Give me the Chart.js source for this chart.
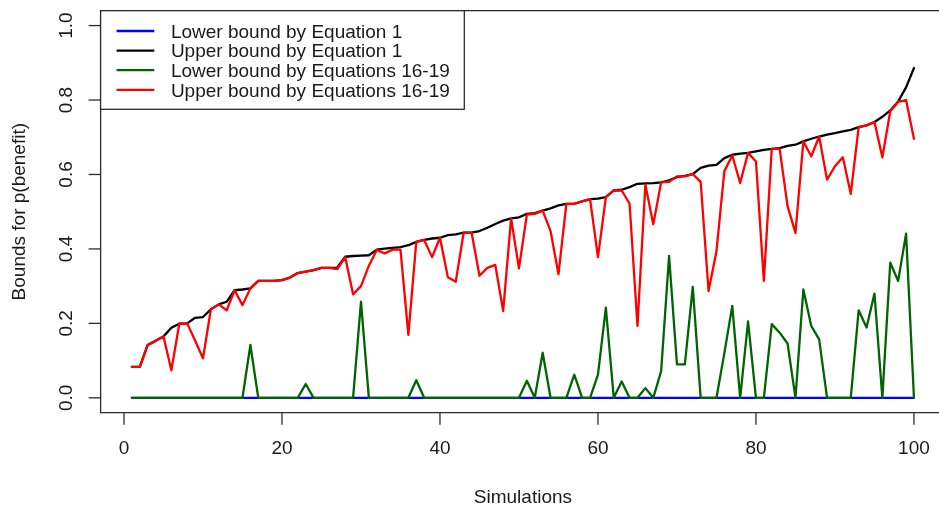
<!DOCTYPE html>
<html>
<head>
<meta charset="utf-8">
<script src="https://cdn.jsdelivr.net/npm/chart.js@4/dist/chart.umd.min.js"></script>
<style>
  html, body { margin: 0; padding: 0; background: #ffffff; }
  #c { display: block; }
</style>
</head>
<body>
<canvas id="c" width="939" height="506"></canvas>
<script>
// ---------- data ----------
const simulations = [1,2,3,4,5,6,7,8,9,10,11,12,13,14,15,16,17,18,19,20,
  21,22,23,24,25,26,27,28,29,30,31,32,33,34,35,36,37,38,39,40,
  41,42,43,44,45,46,47,48,49,50,51,52,53,54,55,56,57,58,59,60,
  61,62,63,64,65,66,67,68,69,70,71,72,73,74,75,76,77,78,79,80,
  81,82,83,84,85,86,87,88,89,90,91,92,93,94,95,96,97,98,99,100];

const lowerEq1 = [0,0,0,0,0,0,0,0,0,0,0,0,0,0,0,0,0,0,0,0,
  0,0,0,0,0,0,0,0,0,0,0,0,0,0,0,0,0,0,0,0,
  0,0,0,0,0,0,0,0,0,0,0,0,0,0,0,0,0,0,0,0,
  0,0,0,0,0,0,0,0,0,0,0,0,0,0,0,0,0,0,0,0,
  0,0,0,0,0,0,0,0,0,0,0,0,0,0,0,0,0,0,0,0];

const upperEq1 = [0.083,0.083,0.142,0.153,0.165,0.188,0.199,0.200,0.215,0.217,
  0.238,0.251,0.258,0.289,0.291,0.294,0.314,0.314,0.314,0.316,
  0.323,0.335,0.339,0.343,0.349,0.349,0.350,0.379,0.381,0.382,
  0.383,0.398,0.401,0.403,0.405,0.410,0.419,0.424,0.428,0.430,
  0.437,0.439,0.444,0.444,0.448,0.457,0.467,0.476,0.482,0.485,
  0.494,0.496,0.503,0.509,0.517,0.521,0.521,0.528,0.534,0.535,
  0.539,0.557,0.559,0.566,0.575,0.576,0.577,0.579,0.584,0.593,
  0.596,0.601,0.618,0.624,0.626,0.644,0.653,0.656,0.658,0.662,
  0.666,0.669,0.671,0.677,0.680,0.689,0.696,0.702,0.707,0.711,
  0.716,0.720,0.727,0.732,0.741,0.755,0.772,0.796,0.834,0.886];

const lowerEq1619 = [0,0,0,0,0,0,0,0,0,0,0,0,0,0,0,0.142,0,0,0,0,
  0,0,0.037,0,0,0,0,0,0,0.258,0,0,0,0,0,0,0.047,0,0,0,
  0,0,0,0,0,0,0,0,0,0,0.046,0,0.121,0,0,0,0.062,0,0,0.062,
  0.242,0,0.044,0,0,0.026,0,0.072,0.381,0.090,0.090,0.298,0,0,0,0.120,0.247,0,0.205,0,
  0,0.198,0.175,0.146,0,0.291,0.193,0.157,0,0,0,0,0.235,0.189,0.280,0,0.363,0.314,0.441,0];

const upperEq1619 = [0.083,0.083,0.142,0.153,0.165,0.074,0.199,0.200,0.154,0.106,
  0.238,0.251,0.235,0.289,0.249,0.294,0.314,0.314,0.314,0.316,
  0.323,0.335,0.339,0.343,0.349,0.349,0.346,0.378,0.278,0.300,
  0.355,0.397,0.388,0.398,0.398,0.169,0.419,0.424,0.378,0.430,
  0.324,0.312,0.444,0.444,0.328,0.349,0.357,0.233,0.482,0.348,
  0.492,0.494,0.503,0.448,0.332,0.521,0.521,0.528,0.534,0.378,
  0.539,0.557,0.557,0.522,0.193,0.573,0.466,0.579,0.580,0.595,
  0.595,0.601,0.580,0.287,0.394,0.609,0.651,0.577,0.658,0.635,
  0.314,0.669,0.669,0.515,0.443,0.689,0.649,0.702,0.586,0.622,
  0.646,0.548,0.727,0.732,0.741,0.646,0.770,0.795,0.800,0.696];

const xTicks = [0, 20, 40, 60, 80, 100];
const yTicks = [0.0, 0.2, 0.4, 0.6, 0.8, 1.0];
const yTickLabels = ['0.0', '0.2', '0.4', '0.6', '0.8', '1.0'];
const seriesLabels = ['Lower bound by Equation 1', 'Upper bound by Equation 1',
  'Lower bound by Equations 16-19', 'Upper bound by Equations 16-19'];
const seriesColors = ['#0000ff', '#000000', '#006400', '#ff0000'];
const xTitle = 'Simulations';
const yTitle = 'Bounds for p(benefit)';

// ---------- helpers ----------
const FONT = '19px "Liberation Sans", Arial, sans-serif';
const INK = '#1a1a1a';
const AXIS = '#2b2b2b';
const toPts = (ys) => simulations.map((s, i) => ({ x: s, y: ys[i] }));
const seriesValues = [lowerEq1, upperEq1, lowerEq1619, upperEq1619];
const drawOrder = [4, 3, 2, 1]; // blue first (bottom), red last (top)

const rAxes = {
  id: 'rAxes',
  afterDraw(chart) {
    const ctx = chart.ctx;
    const a = chart.chartArea;
    const xs = chart.scales.x, ys = chart.scales.y;
    ctx.save();
    // box (right side lies outside the cropped picture)
    ctx.strokeStyle = AXIS;
    ctx.lineWidth = 1.3;
    ctx.beginPath();
    ctx.moveTo(chart.width + 2, a.top);
    ctx.lineTo(a.left, a.top);
    ctx.lineTo(a.left, a.bottom);
    ctx.lineTo(chart.width + 2, a.bottom);
    ctx.stroke();
    // x ticks
    ctx.fillStyle = INK;
    ctx.font = FONT;
    ctx.textAlign = 'center';
    ctx.textBaseline = 'middle';
    xTicks.forEach(v => {
      const px = xs.getPixelForValue(v);
      ctx.beginPath();
      ctx.moveTo(px, a.bottom);
      ctx.lineTo(px, a.bottom + 12);
      ctx.stroke();
      ctx.fillText(String(v), px, a.bottom + 36);
    });
    // y ticks
    yTicks.forEach((v, i) => {
      const py = ys.getPixelForValue(v);
      ctx.beginPath();
      ctx.moveTo(a.left, py);
      ctx.lineTo(a.left - 12, py);
      ctx.stroke();
      ctx.save();
      ctx.translate(a.left - 34, py);
      ctx.rotate(-Math.PI / 2);
      ctx.fillText(yTickLabels[i], 0, 0);
      ctx.restore();
    });
    // axis titles (centred on the full plot region)
    const xMid = xs.getPixelForValue((xs.min + 103.96) / 2);
    ctx.textBaseline = 'alphabetic';
    ctx.fillText(xTitle, xMid, a.bottom + 90);
    ctx.save();
    ctx.translate(24.5, (a.top + a.bottom) / 2);
    ctx.rotate(-Math.PI / 2);
    ctx.fillText(yTitle, 0, 0);
    ctx.restore();

    // legend (R style, top-left)
    const lx = a.left, ly = a.top, lw = 363.7, lh = 98.6;
    ctx.fillStyle = '#ffffff';
    ctx.fillRect(lx, ly, lw, lh);
    ctx.strokeStyle = AXIS;
    ctx.lineWidth = 1.3;
    ctx.strokeRect(lx, ly, lw, lh);
    ctx.textAlign = 'left';
    ctx.textBaseline = 'middle';
    chart.data.datasets.forEach((ds, i) => {
      const cy = ly + 20.3 + i * 19.6;
      ctx.strokeStyle = ds.borderColor;
      ctx.lineWidth = 2.3;
      ctx.beginPath();
      ctx.moveTo(lx + 16, cy);
      ctx.lineTo(lx + 53.7, cy);
      ctx.stroke();
      ctx.fillStyle = INK;
      ctx.fillText(ds.label, lx + 70.3, cy + 1.5);
    });
    ctx.restore();
  }
};

new Chart(document.getElementById('c'), {
  type: 'line',
  data: {
    datasets: seriesLabels.map((lab, i) => ({
      label: lab,
      data: toPts(seriesValues[i]),
      borderColor: seriesColors[i],
      backgroundColor: seriesColors[i],
      borderWidth: 2.3,
      borderJoinStyle: 'round',
      borderCapStyle: 'round',
      pointRadius: 0,
      tension: 0,
      fill: false,
      order: drawOrder[i]
    }))
  },
  options: {
    responsive: false,
    animation: false,
    parsing: true,
    layout: { padding: { left: 100.6, top: 10.7, right: 0, bottom: 93.3 } },
    plugins: { legend: { display: false }, tooltip: { enabled: false } },
    scales: {
      x: { type: 'linear', min: -2.96, max: 103.17, display: false },
      y: { type: 'linear', min: -0.04, max: 1.04, display: false }
    }
  },
  plugins: [rAxes]
});
</script>
</body>
</html>
